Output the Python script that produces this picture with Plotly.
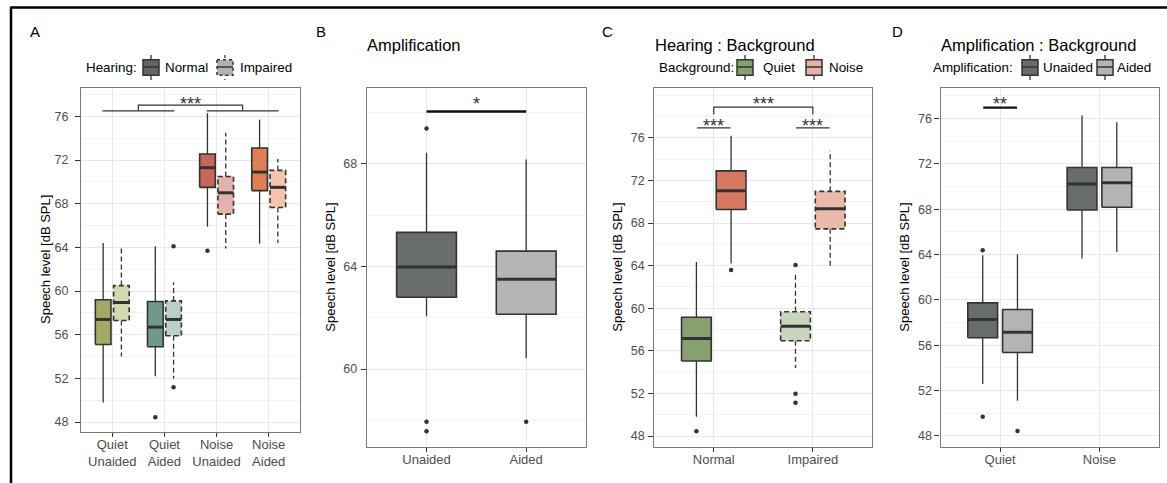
import plotly.graph_objects as go

W, H = 1167, 483

# ---------------- Panel A : Background x Amplification, by Hearing ----------------
a_categories = ["Quiet<br>Unaided", "Quiet<br>Aided", "Noise<br>Unaided", "Noise<br>Aided"]
a_groups = ["Normal", "Impaired"]
a_normal_whislo = [49.8, 52.2, 65.9, 64.35]
a_normal_q1 = [55.1, 54.9, 69.5, 69.2]
a_normal_median = [57.4, 56.7, 71.3, 70.9]
a_normal_q3 = [59.2, 59.05, 72.55, 73.1]
a_normal_whishi = [64.4, 64.1, 76.3, 75.7]
a_normal_outliers = [[], [48.45], [63.7], []]
a_impaired_whislo = [54.0, 52.0, 63.9, 64.4]
a_impaired_q1 = [57.3, 55.9, 67.05, 67.65]
a_impaired_median = [58.95, 57.4, 69.0, 69.5]
a_impaired_q3 = [60.5, 59.1, 70.5, 71.05]
a_impaired_whishi = [64.1, 60.8, 74.5, 72.1]
a_impaired_outliers = [[], [64.1, 51.2], [], []]
a_normal_colors = ["#a3a865", "#6f9a8b", "#c9665c", "#e07f56"]
a_impaired_colors = ["#d4d8ae", "#bacfc7", "#e4b1ab", "#f3c5ae"]

# ---------------- Panel B : Amplification ----------------
b_categories = ["Unaided", "Aided"]
b_whislo = [62.06, 60.42]
b_q1 = [62.8, 62.14]
b_median = [63.98, 63.5]
b_q3 = [65.33, 64.6]
b_whishi = [68.44, 68.17]
b_outliers = [[69.38, 57.95, 57.58], [57.95]]
b_colors = ["#696d6d", "#b4b6b4"]

# ---------------- Panel C : Hearing : Background ----------------
c_categories = ["Normal", "Impaired"]
c_groups = ["Quiet", "Noise"]
c_quiet_whislo = [49.8, 54.4]
c_quiet_q1 = [55.04, 56.95]
c_quiet_median = [57.17, 58.3]
c_quiet_q3 = [59.15, 59.67]
c_quiet_whishi = [64.34, 63.28]
c_quiet_outliers = [[48.44], [64.06, 51.97, 51.13]]
c_noise_whislo = [64.2, 63.75]
c_noise_q1 = [69.28, 67.46]
c_noise_median = [71.03, 69.35]
c_noise_q3 = [72.91, 70.98]
c_noise_whishi = [76.2, 74.8]
c_noise_outliers = [[63.59], []]
c_quiet_colors = ["#88a070", "#c9d4bd"]
c_noise_colors = ["#d97860", "#ecbaab"]

# ---------------- Panel D : Amplification : Background ----------------
d_categories = ["Quiet", "Noise"]
d_groups = ["Unaided", "Aided"]
d_unaided_whislo = [52.58, 63.65]
d_unaided_q1 = [56.66, 67.94]
d_unaided_median = [58.28, 70.24]
d_unaided_q3 = [59.74, 71.68]
d_unaided_whishi = [63.95, 76.28]
d_unaided_outliers = [[64.39, 49.7], []]
d_aided_whislo = [51.1, 64.24]
d_aided_q1 = [55.37, 68.18]
d_aided_median = [57.14, 70.35]
d_aided_q3 = [59.16, 71.68]
d_aided_whishi = [64.03, 75.67]
d_aided_outliers = [[48.44], []]
d_colors = ["#686c6c", "#b3b5b3"]

# y-axis tick labels
y_ticks_wide = [48, 52, 56, 60, 64, 68, 72, 76]
y_ticks_b = [60, 64, 68]

# significance labels
a_sig_labels = ["***"]
b_sig_labels = ["*"]
c_sig_labels = ["***", "***", "***"]
d_sig_labels = ["**"]

FONT = "Liberation Sans, Arial, sans-serif"
DARK = "#333333"
DASH = "5px,3px"

fig = go.Figure()


def axn(i):
    return ("x", "y") if i == 1 else (f"x{i}", f"y{i}")


def add_box(ax, center, width, lo, q1, med, q3, hi, outs, fill, dashed):
    xa, ya = axn(ax)
    dash = DASH if dashed else "solid"
    h = width / 2
    fig.add_trace(go.Scatter(x=[center, center, None, center, center],
                             y=[q3, hi, None, q1, lo], mode="lines",
                             line=dict(color=DARK, width=1.3, dash=dash),
                             xaxis=xa, yaxis=ya, showlegend=False, hoverinfo="skip"))
    fig.add_trace(go.Scatter(x=[center - h, center + h, center + h, center - h, center - h],
                             y=[q1, q1, q3, q3, q1], mode="lines", fill="toself",
                             fillcolor=fill, line=dict(color=DARK, width=1.6, dash=dash),
                             xaxis=xa, yaxis=ya, showlegend=False, hoverinfo="skip"))
    fig.add_trace(go.Scatter(x=[center - h, center + h], y=[med, med], mode="lines",
                             line=dict(color=DARK, width=3),
                             xaxis=xa, yaxis=ya, showlegend=False, hoverinfo="skip"))
    if outs:
        fig.add_trace(go.Scatter(x=[center] * len(outs), y=outs, mode="markers",
                                 marker=dict(color=DARK, size=4.5),
                                 xaxis=xa, yaxis=ya, showlegend=False, hoverinfo="skip"))


def add_group(ax, offset, width, lo, q1, med, q3, hi, outs, colors, dashed):
    for i in range(len(lo)):
        add_box(ax, i + 1 + offset, width, lo[i], q1[i], med[i], q3[i], hi[i], outs[i], colors[i], dashed)


def add_line(ax, xs, ys, width=1.2, color=DARK):
    xa, ya = axn(ax)
    fig.add_trace(go.Scatter(x=xs, y=ys, mode="lines", line=dict(color=color, width=width),
                             xaxis=xa, yaxis=ya, showlegend=False, hoverinfo="skip"))


def add_stars(ax, x, y, text):
    xa, ya = axn(ax)
    fig.add_annotation(x=x, y=y, xref=xa, yref=ya, text=text, showarrow=False,
                       xanchor="center", yanchor="middle", yshift=-3.5,
                       font=dict(family=FONT, size=18, color=DARK))


OFF = 0.175
BW = 0.3
# Panel A
add_group(1, -OFF, BW, a_normal_whislo, a_normal_q1, a_normal_median, a_normal_q3,
          a_normal_whishi, a_normal_outliers, a_normal_colors, False)
add_group(1, OFF, BW, a_impaired_whislo, a_impaired_q1, a_impaired_median, a_impaired_q3,
          a_impaired_whishi, a_impaired_outliers, a_impaired_colors, True)
# Panel B
add_group(2, 0, 0.6, b_whislo, b_q1, b_median, b_q3, b_whishi, b_outliers, b_colors, False)
# Panel C
for i in range(2):
    add_box(3, i + 1 - OFF, BW, c_quiet_whislo[i], c_quiet_q1[i], c_quiet_median[i], c_quiet_q3[i],
            c_quiet_whishi[i], c_quiet_outliers[i], c_quiet_colors[i], i == 1)
    add_box(3, i + 1 + OFF, BW, c_noise_whislo[i], c_noise_q1[i], c_noise_median[i], c_noise_q3[i],
            c_noise_whishi[i], c_noise_outliers[i], c_noise_colors[i], i == 1)
# Panel D
add_group(4, -OFF, BW, d_unaided_whislo, d_unaided_q1, d_unaided_median, d_unaided_q3,
          d_unaided_whishi, d_unaided_outliers, [d_colors[0]] * 2, False)
add_group(4, OFF, BW, d_aided_whislo, d_aided_q1, d_aided_median, d_aided_q3,
          d_aided_whishi, d_aided_outliers, [d_colors[1]] * 2, False)

# significance brackets
S = 0.19
add_line(1, [1 - S, 2 + S], [76.51, 76.51])
add_line(1, [3 - S, 4 + S], [76.51, 76.51])
add_line(1, [1.5, 1.5, 3.5, 3.5], [76.51, 77.03, 77.03, 76.51])
add_stars(1, 2.5, 77.49, a_sig_labels[0])

add_line(2, [1, 2], [70.04, 70.04], width=2.5, color="#111111")
add_stars(2, 1.5, 70.46, b_sig_labels[0])

S2 = 0.17
add_line(3, [1 - S2, 1 + S2], [76.94, 76.94])
add_line(3, [2 - S2, 2 + S2], [76.94, 76.94])
add_line(3, [1, 1, 2, 2], [78.2, 78.9, 78.9, 78.2])
add_stars(3, 1, 77.45, c_sig_labels[0])
add_stars(3, 2, 77.45, c_sig_labels[1])
add_stars(3, 1.5, 79.54, c_sig_labels[2])

add_line(4, [1 - S2, 1 + S2], [76.97, 76.97], width=2.2, color="#111111")
add_stars(4, 1, 77.61, d_sig_labels[0])

# ---------------- axes ----------------
panels = [
    dict(i=1, px=(81, 300), py=(88, 432), xr=[0.4, 4.6], yr=[47.09, 78.6], cats=a_categories,
         yt=y_ticks_wide, ystand=4),
    dict(i=2, px=(366.7, 586), py=(88, 447.3), xr=[0.4, 2.6], yr=[56.95, 70.96], cats=b_categories,
         yt=y_ticks_b, ystand=1),
    dict(i=3, px=(654.3, 872.3), py=(88, 447.3), xr=[0.4, 2.6], yr=[46.94, 80.69], cats=c_categories,
         yt=y_ticks_wide, ystand=1),
    dict(i=4, px=(940.5, 1159), py=(88, 447.3), xr=[0.4, 2.6], yr=[47.0, 78.7], cats=d_categories,
         yt=y_ticks_wide, ystand=0),
]
GRID = "#e8e8e8"
MINOR = "#f2f2f2"
BORDER = "#7a7a7a"
layout = {}
for p in panels:
    i = p["i"]
    kx = "xaxis" if i == 1 else f"xaxis{i}"
    ky = "yaxis" if i == 1 else f"yaxis{i}"
    ya = "y" if i == 1 else f"y{i}"
    xa = "x" if i == 1 else f"x{i}"
    lo_r, hi_r = p["yr"]
    minor_vals = [v for v in range(44, 84, 2) if lo_r <= v <= hi_r and v not in p["yt"]]
    layout[kx] = dict(domain=[p["px"][0] / W, p["px"][1] / W], range=p["xr"], anchor=ya,
                      tickmode="array", tickvals=list(range(1, len(p["cats"]) + 1)), ticktext=p["cats"],
                      showgrid=True, gridcolor=GRID, gridwidth=1, zeroline=False,
                      showline=True, linecolor=BORDER, linewidth=1.2, mirror=True,
                      ticks="outside", ticklen=4, tickcolor=DARK, tickwidth=1, ticklabelstandoff=-4,
                      tickfont=dict(family=FONT, size=13, color="#4d4d4d"), fixedrange=True)
    layout[ky] = dict(domain=[1 - p["py"][1] / H, 1 - p["py"][0] / H], range=p["yr"], anchor=xa,
                      tickmode="array", tickvals=p["yt"], ticktext=[str(v) for v in p["yt"]],
                      showgrid=True, gridcolor=GRID, gridwidth=1, zeroline=False,
                      minor=dict(tickmode="array", tickvals=minor_vals, showgrid=True,
                                 gridcolor=MINOR, gridwidth=0.8, ticks=""),
                      showline=True, linecolor=BORDER, linewidth=1.2, mirror=True,
                      ticks="outside", ticklen=5, tickcolor=DARK, tickwidth=1,
                      ticklabelstandoff=p["ystand"],
                      tickfont=dict(family=FONT, size=12.5, color="#4d4d4d"), fixedrange=True)
    ytitle_x = {1: 45, 2: 331, 3: 618, 4: 905}[i]
    fig.add_annotation(x=ytitle_x / W, y=1 - (p["py"][0] + p["py"][1]) / 2 / H, xref="paper", yref="paper",
                       text="Speech level [dB SPL]", textangle=-90, showarrow=False,
                       xanchor="center", yanchor="middle", font=dict(family=FONT, size=13, color="black"))

# panel letters and titles
for lab, x in zip(["A", "B", "C", "D"], [28, 314, 600, 890]):
    fig.add_annotation(x=x / W, y=1 - 32 / H, xref="paper", yref="paper", text=lab, showarrow=False,
                       xanchor="left", yanchor="middle", font=dict(family=FONT, size=15, color="black"))
for t, x in zip(["Amplification", "Hearing : Background", "Amplification : Background"], [365, 653, 939]):
    fig.add_annotation(x=x / W, y=1 - 45 / H, xref="paper", yref="paper", text=t, showarrow=False,
                       xanchor="left", yanchor="middle", font=dict(family=FONT, size=16.5, color="black"))

# legends (drawn)
shapes = []


def legend_icon(x0, x1, yc, fill, dashed):
    style = "dash" if dashed else "solid"
    xc = (x0 + x1) / 2
    shapes.append(dict(type="line", xref="paper", yref="paper", x0=xc / W, x1=xc / W,
                       y0=1 - (yc - 12.5) / H, y1=1 - (yc + 12.5) / H,
                       line=dict(color=DARK, width=1.3, dash="dot" if dashed else "solid")))
    shapes.append(dict(type="rect", xref="paper", yref="paper", x0=x0 / W, x1=x1 / W,
                       y0=1 - (yc - 7.8) / H, y1=1 - (yc + 7.8) / H, fillcolor=fill,
                       line=dict(color=DARK, width=1.5, dash="dot" if dashed else style)))
    shapes.append(dict(type="line", xref="paper", yref="paper", x0=x0 / W, x1=x1 / W,
                       y0=1 - (yc - 0.5) / H, y1=1 - (yc - 0.5) / H, line=dict(color=DARK, width=1.5)))


def legend_text(x, yc, t):
    fig.add_annotation(x=x / W, y=1 - yc / H, xref="paper", yref="paper", text=t, showarrow=False,
                       xanchor="left", yanchor="middle", font=dict(family=FONT, size=13.4, color="black"))


LY = 67.5
legend_text(84, LY, "Hearing:")
legend_icon(143, 159, LY, "#626665", False)
legend_text(163, LY, a_groups[0])
legend_icon(217, 233, LY, "#b0b2b0", True)
legend_text(238, LY, a_groups[1])

legend_text(657, LY, "Background:")
legend_icon(737, 753, LY, "#86a06f", False)
legend_text(761, LY, c_groups[0])
legend_icon(806, 822, LY, "#eab3a5", False)
legend_text(827, LY, c_groups[1])

legend_text(931, LY, "Amplification:")
legend_icon(1022, 1038, LY, d_colors[0], False)
legend_text(1041, LY, d_groups[0])
legend_icon(1097, 1113, LY, d_colors[1], False)
legend_text(1115, LY, d_groups[1])

# outer frame (top and left edges)
shapes.append(dict(type="line", xref="paper", yref="paper", x0=11 / W, x1=1.0, y0=1 - 7.5 / H, y1=1 - 7.5 / H,
                   line=dict(color="black", width=2.5)))
shapes.append(dict(type="line", xref="paper", yref="paper", x0=11 / W, x1=11 / W, y0=0, y1=1 - 6.5 / H,
                   line=dict(color="black", width=2.5)))

fig.update_layout(width=W, height=H, margin=dict(l=0, r=0, t=0, b=0),
                  paper_bgcolor="white", plot_bgcolor="white", showlegend=False,
                  shapes=shapes, font=dict(family=FONT), **layout)

fig.write_html("out.html")
